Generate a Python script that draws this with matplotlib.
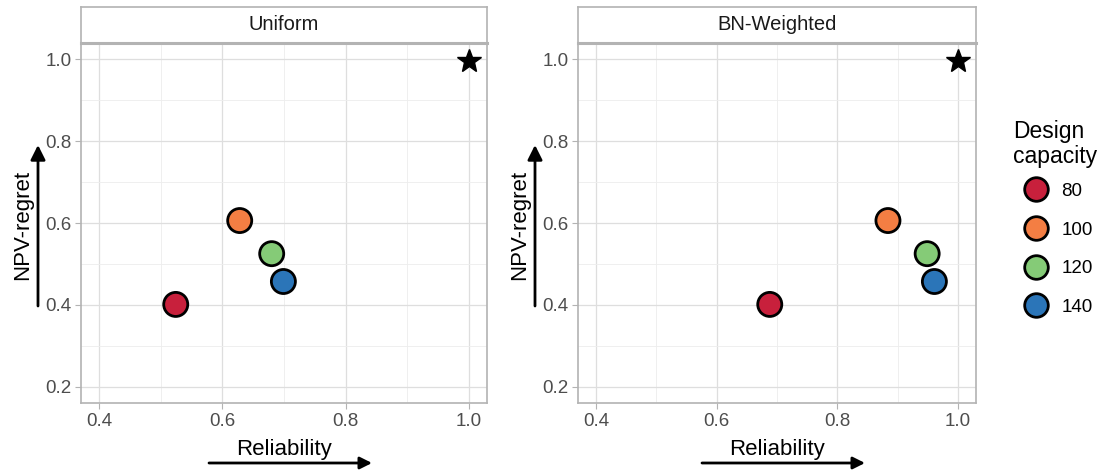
import matplotlib
matplotlib.use("Agg")
import matplotlib.pyplot as plt
from matplotlib.lines import Line2D
from matplotlib.ticker import MultipleLocator

plt.rcParams["font.family"] = ["Liberation Sans", "DejaVu Sans"]

# Data
capacities = ["80", "100", "120", "140"]
colors = ["#C8203C", "#F47E43", "#85CB77", "#2B75B8"]
panels = ["Uniform", "BN-Weighted"]
reliability = {
    "Uniform": [0.524, 0.628, 0.680, 0.699],
    "BN-Weighted": [0.688, 0.884, 0.949, 0.961],
}
npv_regret = {
    "Uniform": [0.401, 0.606, 0.525, 0.457],
    "BN-Weighted": [0.401, 0.606, 0.525, 0.457],
}
ideal_point = (1.0, 0.996)

W, H = 1100, 471
fig = plt.figure(figsize=(W / 100, H / 100), dpi=100)

border = "#B3B3B3"
grid_major = "#DEDEDE"
grid_minor = "#EDEDED"
tick_col = "#4D4D4D"

# panel boxes in pixel units: (left, right, top, bottom)
boxes = [(81, 487, 43, 403), (578, 976, 43, 403)]
strip_top = 7

for name, (l, r, t, b) in zip(panels, boxes):
    ax = fig.add_axes([l / W, 1 - b / H, (r - l) / W, (b - t) / H])
    ax.set_xlim(0.37, 1.03)
    ax.set_ylim(0.16, 1.04)
    ax.xaxis.set_minor_locator(MultipleLocator(0.1))
    ax.yaxis.set_minor_locator(MultipleLocator(0.1))
    ax.set_xticks([0.4, 0.6, 0.8, 1.0])
    ax.set_yticks([0.2, 0.4, 0.6, 0.8, 1.0])
    ax.set_xticklabels(["0.4", "0.6", "0.8", "1.0"])
    ax.set_yticklabels(["0.2", "0.4", "0.6", "0.8", "1.0"])
    ax.grid(True, which="major", color=grid_major, lw=0.9)
    ax.grid(True, which="minor", color=grid_minor, lw=0.6)
    ax.set_axisbelow(True)
    ax.tick_params(which="major", length=4, width=0.8, color=border,
                   labelcolor=tick_col, labelsize=13.5, pad=3)
    ax.tick_params(which="minor", length=0)
    for s in ax.spines.values():
        s.set_color(border)
        s.set_linewidth(1.2)

    ax.scatter(reliability[name], npv_regret[name], s=300, c=colors,
               edgecolors="black", linewidths=2.0, zorder=3)
    ax.plot([ideal_point[0]], [ideal_point[1]], marker="*", ms=18,
            color="black", ls="none", zorder=3, clip_on=False)

    # facet strip
    sax = fig.add_axes([l / W, 1 - t / H, (r - l) / W, (t - strip_top) / H])
    sax.set_xticks([])
    sax.set_yticks([])
    for s in sax.spines.values():
        s.set_color(border)
        s.set_linewidth(1.2)
    sax.spines["bottom"].set_linewidth(2.2)
    sax.text(0.5, 0.5, name, ha="center", va="center", fontsize=14.5,
             color="#1A1A1A", transform=sax.transAxes)

    # axis titles with direction arrows
    arrow_x = l - 43
    fig.text((l - 58) / W, 1 - 225 / H, "NPV-regret", rotation=90,
             ha="center", va="center", fontsize=16)
    ax.annotate("", xy=(arrow_x, H - 145), xytext=(arrow_x, H - 306),
                xycoords="figure pixels", textcoords="figure pixels",
                arrowprops=dict(arrowstyle="-|>", lw=2, color="black",
                                mutation_scale=22, shrinkA=0, shrinkB=0))
    xc_label = l + (r - l) * 0.5
    fig.text(xc_label / W, 1 - 449 / H, "Reliability", ha="center",
             va="center", fontsize=16)
    ax.annotate("", xy=(xc_label + 88, H - 463), xytext=(xc_label - 75, H - 463),
                xycoords="figure pixels", textcoords="figure pixels",
                arrowprops=dict(arrowstyle="-|>", lw=2, color="black",
                                mutation_scale=18, shrinkA=0, shrinkB=0))

# legend: title as text, keys below
fig.text(1013 / W, 1 - 144 / H, "Design\ncapacity", ha="left", va="center",
         fontsize=16.5, linespacing=1.1)
handles = [Line2D([], [], marker="o", ls="none", ms=17, mfc=c, mec="black",
                  mew=2.0) for c in colors]
leg = fig.legend(handles, capacities, loc="upper left",
                 bbox_to_anchor=(1005 / W, 1 - 166 / H), borderpad=0.4,
                 frameon=False, fontsize=13.5,
                 labelspacing=1.15, handletextpad=0.6, handlelength=1.5)

fig.savefig("out.png", dpi=100)
